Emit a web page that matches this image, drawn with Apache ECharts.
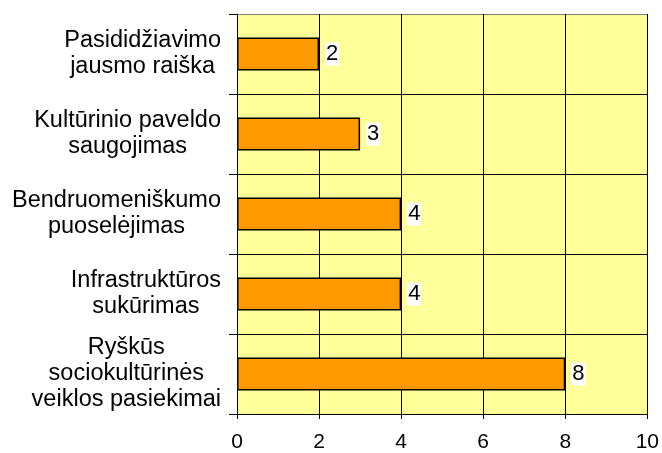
<!DOCTYPE html>
<html>
<head>
<meta charset="utf-8">
<script src="https://cdn.jsdelivr.net/npm/echarts@6/dist/echarts.min.js"></script>
<style>
html,body{margin:0;padding:0;background:#fff;}
#main{width:662px;height:453px;}
</style>
</head>
<body>
<div id="main"></div>
<script>
// kategorijos (nuo viršaus į apačią)
var categories = [
	'Pasididžiavimo\njausmo raiška',
	'Kultūrinio paveldo\nsaugojimas',
	'Bendruomeniškumo\npuoselėjimas',
	'Infrastruktūros\nsukūrimas',
	'Ryškūs\nsociokultūrinės\nveiklos pasiekimai'
];
var values = [2, 3, 4, 4, 8];
var xTicks = [0, 2, 4, 6, 8, 10];

var chart = echarts.init(document.getElementById('main'));

var option = {
	backgroundColor: '#ffffff',
	textStyle: {fontFamily: 'Liberation Sans, Arial, sans-serif'},
	grid: {
		left: 237, right: 12, top: 14, bottom: 38,
		show: true, backgroundColor: '#ffff99', borderWidth: 0
	},
	xAxis: {
		type: 'value',
		min: xTicks[0],
		max: xTicks[xTicks.length - 1],
		interval: 2,
		axisLine: {show: true, lineStyle: {color: '#000', width: 1}},
		axisTick: {show: true, length: 5, lineStyle: {color: '#000'}},
		splitLine: {show: true, lineStyle: {color: '#000', width: 1}},
		axisLabel: {color: '#000', fontSize: 21, margin: 18}
	},
	yAxis: {
		type: 'category',
		inverse: true,
		data: categories,
		axisLine: {show: true, lineStyle: {color: '#000', width: 1}},
		axisTick: {show: true, length: 8, inside: false, lineStyle: {color: '#000'}},
		splitLine: {show: true, lineStyle: {color: ['#808080', '#000', '#000', '#000', '#000', '#000'], width: 1}},
		axisLabel: {
			color: '#000', fontSize: 23.5, margin: 16, lineHeight: 26,
			formatter: function(v){
				return v.split('\n').map(function(s){ return '{c|' + s + '}'; }).join('\n');
			},
			rich: {c: {align: 'center', fontSize: 23.5, lineHeight: 26, color: '#000'}}
		}
	},
	series: [{
		type: 'bar',
		data: values,
		barWidth: 33,
		itemStyle: {color: '#ff9900', borderColor: '#000', borderWidth: 1.5},
		label: {
			show: true, position: 'right', distance: 6,
			color: '#000', fontSize: 22,
			backgroundColor: '#fff', padding: [1, 1, 0, 1]
		},
		silent: true
	}],
	animation: false
};

chart.setOption(option);
</script>
</body>
</html>
